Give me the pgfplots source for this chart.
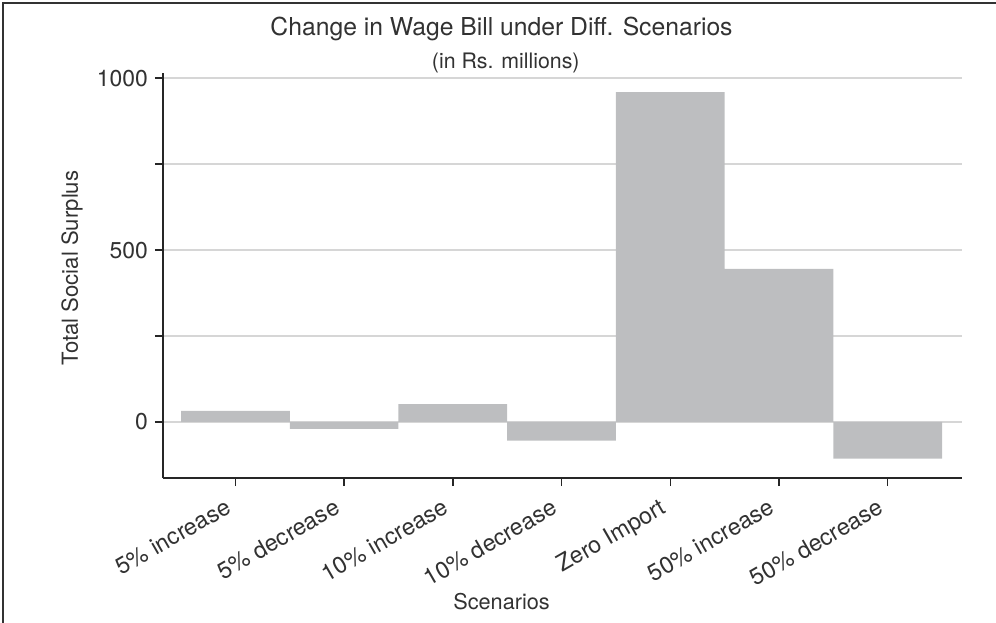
\documentclass[border=0pt]{standalone}
\usepackage{pgfplots}
\pgfplotsset{compat=1.18}
\usepackage{fontspec}
\setmainfont{TeX Gyre Heros}
\definecolor{barc}{RGB}{189,190,192}
\definecolor{gridc}{RGB}{214,214,214}
\definecolor{txt}{RGB}{50,50,50}
\begin{document}
\begin{tikzpicture}
\path[use as bounding box] (0,0) rectangle (498bp,311.5bp);
\draw[line width=0.75bp, txt] (1.5bp,0) -- (1.5bp,310bp) -- (498bp,310bp);
\begin{axis}[
  at={(81.5bp,72.5bp)}, anchor=south west, scale only axis,
  width=399.5bp, height=202.5bp,
  xmin=-0.666, xmax=6.684, ymin=-163, ymax=1015,
  axis x line*=bottom, axis y line*=left,
  axis line style={line width=1bp, color=black!85, -},
  xtick={0,1,2,3,4,5,6},
  xticklabels={5\% increase, 5\% decrease, 10\% increase, 10\% decrease, Zero Import, 50\% increase, 50\% decrease},
  x tick label style={rotate=30, anchor=north east, font=\fontsize{11.7}{13}\selectfont, text=txt, inner sep=1.5bp, xshift=-6.1bp, yshift=-0.5bp},
  ytick={0,250,500,750,1000}, yticklabels={0,,500,,1000},
  y tick label style={font=\fontsize{11.5}{13}\selectfont, text=txt},
  tick align=outside, major tick length=4bp,
  tick style={line width=0.7bp, color=black!85},
  ymajorgrids, grid style={line width=0.75bp, gridc},
  xlabel={Scenarios},
  xlabel style={at={(axis description cs:0.4237,-0.306)}, anchor=center, font=\fontsize{10.9}{13}\selectfont, text=txt},
  ylabel={Total Social Surplus},
  ylabel style={at={(axis description cs:-0.1139,0.5185)}, anchor=center, rotate=0, font=\fontsize{11.1}{13}\selectfont, text=txt},
  clip=false,
]
\addplot[ybar, bar width=1, bar shift=0pt, fill=barc, draw=none] coordinates {
  (0,32) (1,-20) (2,52) (3,-54) (4,959) (5,445) (6,-107)
};
\node[anchor=base, font=\fontsize{12.4}{14}\selectfont, text=txt] at (axis description cs:0.4237,1.0914) {Change in Wage Bill under Diff. Scenarios};
\node[anchor=base, font=\fontsize{10.7}{13}\selectfont, text=txt] at (axis description cs:0.4290,1.0123) {(in Rs. millions)};
\end{axis}
\end{tikzpicture}
\end{document}
